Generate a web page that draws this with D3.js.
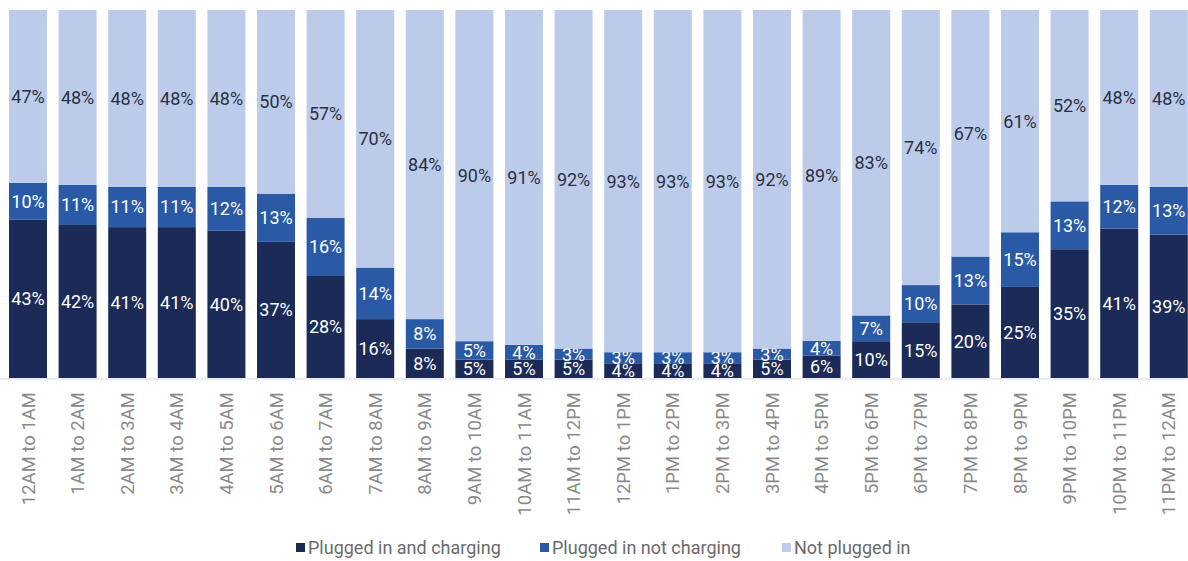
<!DOCTYPE html>
<html>
<head>
<meta charset="utf-8">
<script src="https://cdn.jsdelivr.net/npm/d3@7"></script>
<style>
  html, body { margin: 0; padding: 0; background: #ffffff; }
  svg { display: block; }
  text { font-family: "Roboto", "Liberation Sans", sans-serif; }
</style>
</head>
<body>
<svg id="chart" width="1188" height="561"></svg>
<script>
// Hourly share of vehicles by plug status
const hours = [
  "12AM to 1AM", "1AM to 2AM", "2AM to 3AM", "3AM to 4AM", "4AM to 5AM", "5AM to 6AM",
  "6AM to 7AM", "7AM to 8AM", "8AM to 9AM", "9AM to 10AM", "10AM to 11AM", "11AM to 12PM",
  "12PM to 1PM", "1PM to 2PM", "2PM to 3PM", "3PM to 4PM", "4PM to 5PM", "5PM to 6PM",
  "6PM to 7PM", "7PM to 8PM", "8PM to 9PM", "9PM to 10PM", "10PM to 11PM", "11PM to 12AM"
];
const chargingValues    = [43, 42, 41, 41, 40, 37, 28, 16, 8, 5, 5, 5, 4, 4, 4, 5, 6, 10, 15, 20, 25, 35, 41, 39];
const notChargingValues = [10, 11, 11, 11, 12, 13, 16, 14, 8, 5, 4, 3, 3, 3, 3, 3, 4, 7, 10, 13, 15, 13, 12, 13];
const notPluggedValues  = [47, 48, 48, 48, 48, 50, 57, 70, 84, 90, 91, 92, 93, 93, 93, 92, 89, 83, 74, 67, 61, 52, 48, 48];

const seriesNames = ["Plugged in and charging", "Plugged in not charging", "Not plugged in"];
const seriesKeys = ["charging", "notCharging", "notPlugged"];
const colors = ["#1b2a56", "#2a5aa6", "#bdcbea"];
const labelColors = ["#ffffff", "#ffffff", "#2b3040"];

const rows = hours.map((h, i) => ({
  hour: h,
  charging: chargingValues[i],
  notCharging: notChargingValues[i],
  notPlugged: notPluggedValues[i]
}));

const svg = d3.select("#chart");
const plotTop = 10, plotBottom = 378;

const x = d3.scaleBand()
  .domain(hours)
  .range([3.2, 1193.6])
  .paddingInner(0.234)
  .paddingOuter(0.117);

const y = d3.scaleLinear().domain([0, 1]).range([plotBottom, plotTop]);

const stack = d3.stack().keys(seriesKeys).offset(d3.stackOffsetExpand);
const layers = stack(rows);

const g = svg.append("g");

layers.forEach((layer, li) => {
  const lg = g.append("g").attr("fill", colors[li]);
  lg.selectAll("rect")
    .data(layer)
    .join("rect")
    .attr("x", d => x(d.data.hour))
    .attr("width", x.bandwidth())
    .attr("y", d => y(d[1]))
    .attr("height", d => y(d[0]) - y(d[1]));

  g.append("g")
    .selectAll("text")
    .data(layer)
    .join("text")
    .attr("x", d => x(d.data.hour) + x.bandwidth() / 2)
    .attr("y", d => (y(d[0]) + y(d[1])) / 2)
    .attr("dy", "0.36em")
    .attr("text-anchor", "middle")
    .attr("font-size", 18)
    .attr("fill", labelColors[li])
    .text(d => d.data[seriesKeys[li]] + "%");
});

// baseline axis
const xAxis = d3.axisBottom(x).tickSize(0).tickPadding(0);
const ax = svg.append("g")
  .attr("transform", `translate(0,${plotBottom + 1})`)
  .call(xAxis);
ax.select(".domain").attr("stroke", "#d9d9d9").attr("d", "M0,0H1188");
ax.selectAll("text")
  .attr("font-size", 18.5)
  .attr("fill", "#8a8a8a")
  .attr("text-anchor", "end")
  .attr("transform", "rotate(-90)")
  .attr("x", -13)
  .attr("y", 0)
  .attr("dy", "0.36em");

// legend
const legendX = [296, 540, 782];
const legend = svg.append("g").attr("transform", "translate(0,548)");
seriesNames.forEach((name, i) => {
  const item = legend.append("g").attr("transform", `translate(${legendX[i]},0)`);
  item.append("rect").attr("x", 0).attr("y", -5).attr("width", 9).attr("height", 9).attr("fill", colors[i]);
  item.append("text")
    .attr("x", 12)
    .attr("y", 0)
    .attr("dy", "0.36em")
    .attr("font-size", 18)
    .attr("fill", "#6b6b6b")
    .text(name);
});
</script>
</body>
</html>
